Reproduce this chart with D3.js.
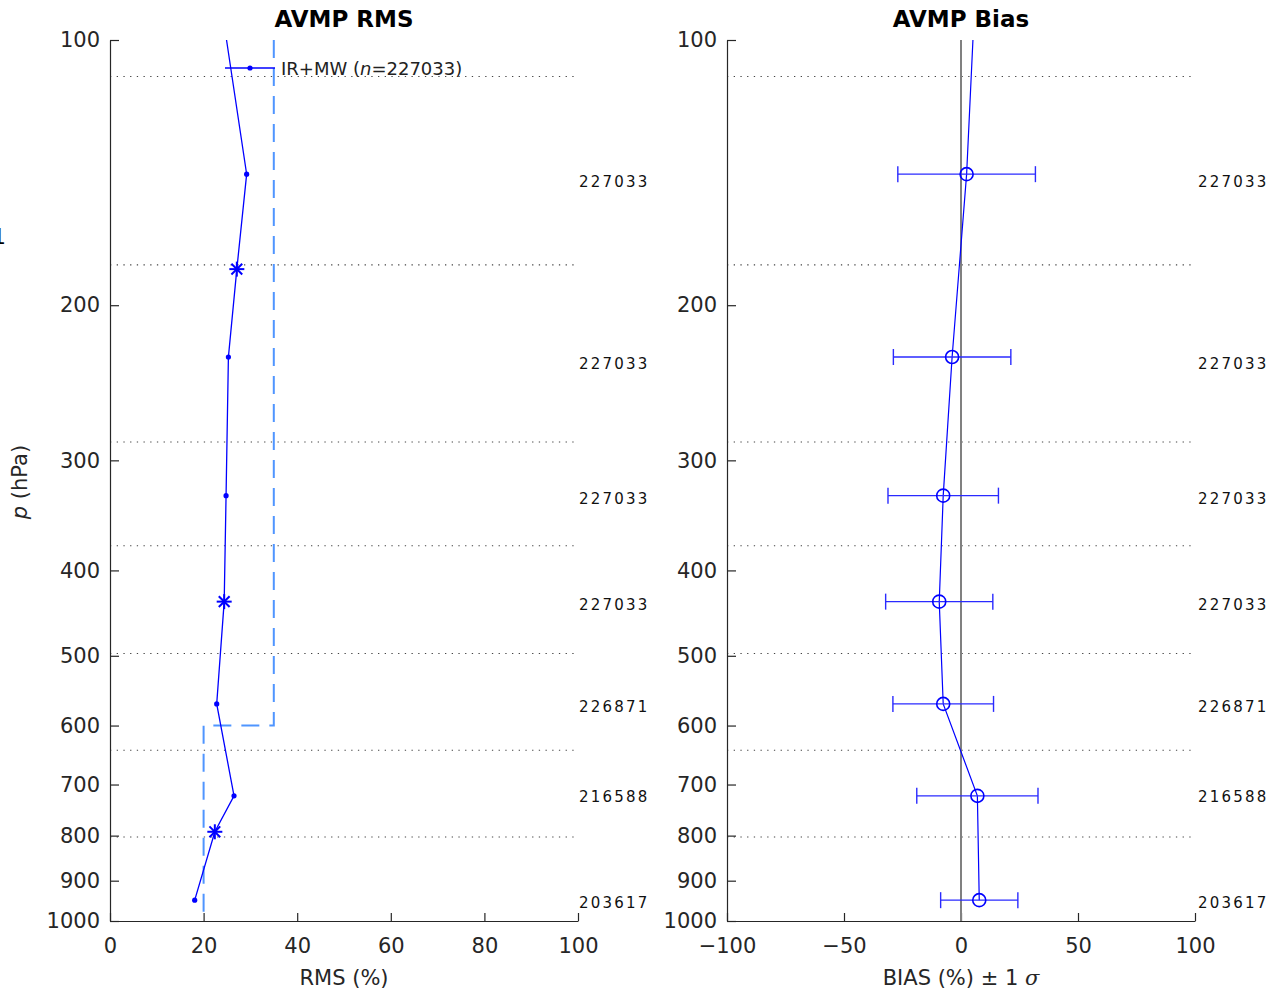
<!DOCTYPE html>
<html><head><meta charset="utf-8">
<script src="https://cdn.jsdelivr.net/npm/d3@7"></script>
<style>
body{margin:0;background:#fff;}
svg text{font-family:"DejaVu Sans",sans-serif;}
</style>
</head><body>
<svg id="c" width="1272" height="991"></svg>
<script>
// ---- data ----
const yTicks = [100,200,300,400,500,600,700,800,900,1000];
const rmsTicks = [0,20,40,60,80,100];
const biasTicks = [-100,-50,0,50,100];
const layerPressure = [142, 229, 329, 434, 567, 721, 947];
const countPressure = [145, 233.5, 332, 437.6, 571, 723, 955];
const layerCounts = ["227033","227033","227033","227033","226871","216588","203617"];
const boundaryPressure = [110, 180, 286, 375, 497, 640, 803];
// RMS profile
const rmsPressure = [100, 142, 182, 229, 329, 434, 567, 721, 792, 947];
const rmsValue    = [24.9, 29.2, 27.1, 25.3, 24.8, 24.4, 22.8, 26.5, 22.4, 18.1];
const rmsMarker   = ["none","dot","star","dot","dot","star","dot","dot","star","dot"];
// RMS requirement (dashed)
const reqPressure = [100, 600, 600, 1000];
const reqValue    = [35, 35, 20, 20];
// Bias profile
const biasLinePressure = [100, 142, 229, 329, 434, 567, 721, 947];
const biasLineValue    = [5.1, 2.4, -3.8, -7.6, -9.3, -7.6, 7.0, 7.8];
const biasSigma        = [29.4, 25.1, 23.6, 22.9, 21.5, 25.9, 16.5];

// ---- layout ----
const svg = d3.select("#c");
const yTop = 40, yBot = 921;
const y = d3.scaleLog().domain([100,1000]).range([yTop,yBot]);
const xL = d3.scaleLinear().domain([0,100]).range([110,578]);
const xR = d3.scaleLinear().domain([-100,100]).range([727,1195]);
const axisCol = "#262626";
const blue = "#0000ff";

function panel(x, xTicks, title, xfmt, cntDx){
  const g = svg.append("g");
  g.selectAll("line.bnd").data(boundaryPressure).enter().append("line")
    .attr("x1", x.range()[0]).attr("x2", x.range()[1])
    .attr("y1", d=>y(d)).attr("y2", d=>y(d))
    .attr("stroke","#444").attr("stroke-width",1.1).attr("stroke-dasharray","1.3,5.4");
  const ya = d3.axisLeft(y).tickValues(yTicks).tickFormat(d3.format("d")).tickSizeInner(-9).tickSizeOuter(0).tickPadding(10);
  const yg = g.append("g").attr("transform",`translate(${x.range()[0]},0)`).call(ya);
  const xa = d3.axisBottom(x).tickValues(xTicks).tickFormat(xfmt).tickSizeInner(-8).tickSizeOuter(0).tickPadding(17);
  const xg = g.append("g").attr("transform",`translate(0,${yBot})`).call(xa);
  [yg,xg].forEach(a=>{
    a.select(".domain").attr("stroke",axisCol).attr("stroke-width",1.2);
    a.selectAll(".tick line").attr("stroke",axisCol).attr("stroke-width",1.2);
    a.selectAll(".tick text").attr("fill",axisCol).attr("font-size",21).attr("font-family","DejaVu Sans");
  });
  g.append("text").attr("x",(x.range()[0]+x.range()[1])/2).attr("y",27)
    .attr("text-anchor","middle").attr("font-size",23).attr("font-weight","bold").attr("fill","#000").text(title);
  g.selectAll("text.cnt").data(countPressure).enter().append("text")
    .attr("x", x.range()[1]+cntDx).attr("y", d=>y(d)).attr("dominant-baseline","central")
    .attr("font-size",15).attr("letter-spacing",2.2).attr("fill","#111")
    .text((d,i)=>layerCounts[i]);
  return g;
}

const gL = panel(xL, rmsTicks, "AVMP RMS", d3.format("d"), 1);
const gR = panel(xR, biasTicks, "AVMP Bias", d=> d<0 ? "\u2212"+Math.abs(d) : String(d), 3);

// ---- RMS panel ----
gL.append("path")
  .datum(reqPressure.map((p,i)=>[reqValue[i],p]))
  .attr("d", d3.line().x(d=>xL(d[0])).y(d=>y(d[1])))
  .attr("fill","none").attr("stroke","#4f95ff").attr("stroke-width",2).attr("stroke-dasharray","18,10");

gL.append("path")
  .datum(rmsPressure.map((p,i)=>[rmsValue[i],p]))
  .attr("d", d3.line().x(d=>xL(d[0])).y(d=>y(d[1])))
  .attr("fill","none").attr("stroke",blue).attr("stroke-width",1.3);

rmsPressure.forEach((p,i)=>{
  const cx = xL(rmsValue[i]), cy = y(p);
  if(rmsMarker[i]==="dot"){
    gL.append("circle").attr("cx",cx).attr("cy",cy).attr("r",2.6).attr("fill",blue);
  } else if(rmsMarker[i]==="star"){
    const r = 7.5, r2 = r*0.72;
    const segs = [[-r,0,r,0],[0,-r,0,r],[-r2,-r2,r2,r2],[-r2,r2,r2,-r2]];
    segs.forEach(s=>gL.append("line").attr("x1",cx+s[0]).attr("y1",cy+s[1]).attr("x2",cx+s[2]).attr("y2",cy+s[3])
      .attr("stroke",blue).attr("stroke-width",2));
  }
});

// legend
gL.append("line").attr("x1",225).attr("x2",275).attr("y1",68).attr("y2",68).attr("stroke",blue).attr("stroke-width",1.3);
gL.append("circle").attr("cx",250).attr("cy",68).attr("r",2.6).attr("fill",blue);
const lt = gL.append("text").attr("x",281).attr("y",75).attr("font-size",18).attr("fill","#222");
lt.append("tspan").text("IR+MW (");
lt.append("tspan").attr("font-style","italic").text("n");
lt.append("tspan").text("=227033)");

// ---- Bias panel ----
gR.append("line").attr("x1",xR(0)).attr("x2",xR(0)).attr("y1",yTop).attr("y2",yBot)
  .attr("stroke","#808080").attr("stroke-width",2);

gR.append("path")
  .datum(biasLinePressure.map((p,i)=>[biasLineValue[i],p]))
  .attr("d", d3.line().x(d=>xR(d[0])).y(d=>y(d[1])))
  .attr("fill","none").attr("stroke",blue).attr("stroke-width",1.2);

layerPressure.forEach((p,i)=>{
  const v = biasLineValue[i+1], s = biasSigma[i], cy = y(p);
  const eg = gR.append("g").attr("stroke","#2a2aff").attr("stroke-width",1.4).attr("fill","none");
  eg.append("line").attr("x1",xR(v-s)).attr("x2",xR(v+s)).attr("y1",cy).attr("y2",cy);
  eg.append("line").attr("x1",xR(v-s)).attr("x2",xR(v-s)).attr("y1",cy-8).attr("y2",cy+8);
  eg.append("line").attr("x1",xR(v+s)).attr("x2",xR(v+s)).attr("y1",cy-8).attr("y2",cy+8);
  gR.append("circle").attr("cx",xR(v)).attr("cy",cy).attr("r",6.5)
    .attr("fill","none").attr("stroke",blue).attr("stroke-width",1.6);
});

// ---- axis labels ----
svg.append("text").attr("x",xL(50)).attr("y",985).attr("text-anchor","middle").attr("font-size",21).attr("fill",axisCol).text("RMS (%)");
const bl = svg.append("text").attr("x",xR(0)).attr("y",985).attr("text-anchor","middle").attr("font-size",21).attr("fill",axisCol);
bl.append("tspan").text("BIAS (%) \u00b1 1 ");
bl.append("tspan").attr("font-style","italic").attr("font-family","DejaVu Serif").text("\u03c3");

const yl = svg.append("text").attr("transform","translate(27,482) rotate(-90)").attr("text-anchor","middle").attr("font-size",21).attr("fill",axisCol);
yl.append("tspan").attr("font-style","italic").text("p");
yl.append("tspan").text(" (hPa)");

// stray clipped glyph at the left edge (as in the reference)
svg.append("text").attr("x",-8).attr("y",244).attr("font-size",22).attr("fill","#000").text("1");
</script>
</body></html>
